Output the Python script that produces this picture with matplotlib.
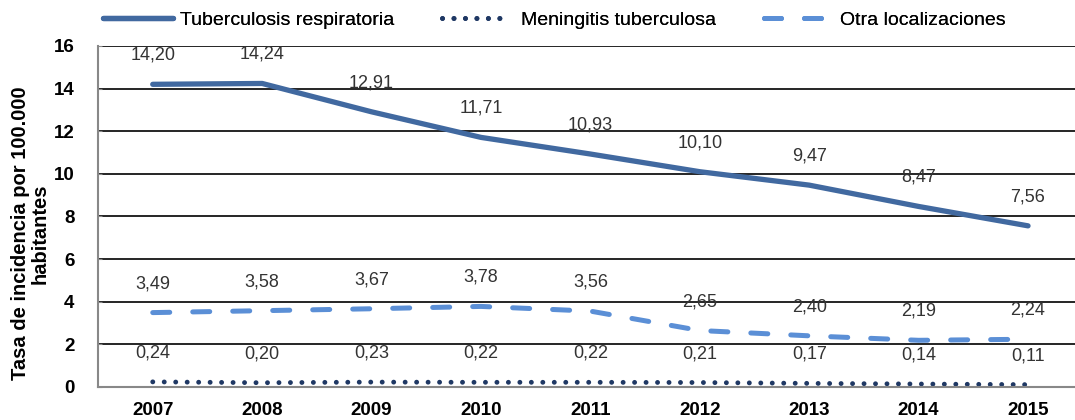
import matplotlib.pyplot as plt

plt.rcParams['font.family'] = ['Liberation Sans', 'DejaVu Sans']

years = ["2007", "2008", "2009", "2010", "2011", "2012", "2013", "2014", "2015"]
tb_resp = [14.20, 14.24, 12.91, 11.71, 10.93, 10.10, 9.47, 8.47, 7.56]
meningitis = [0.24, 0.20, 0.23, 0.22, 0.22, 0.21, 0.17, 0.14, 0.11]
otra = [3.49, 3.58, 3.67, 3.78, 3.56, 2.65, 2.40, 2.19, 2.24]


def fmt(v):
    return f"{v:.2f}".replace(".", ",")


fig = plt.figure(figsize=(10.75, 4.2), dpi=100)
ax = fig.add_axes([0.0912, 0.0786, 0.916, 0.812])

x = list(range(len(years)))
l1, = ax.plot(x, tb_resp, color="#4169A0", lw=3.8, solid_capstyle="round",
              label="Tuberculosis respiratoria")
l2, = ax.plot(x, meningitis, color="#1F3864", lw=3.5, linestyle=(0, (0.01, 2.35)),
              dash_capstyle="round", label="Meningitis tuberculosa")
l3, = ax.plot(x, otra, color="#5B8FD6", lw=3.6, linestyle=(0, (3.4, 4.6)),
              dash_capstyle="round", label="Otra localizaciones")

for series in (tb_resp, meningitis, otra):
    for xi, v in zip(x, series):
        ax.annotate(fmt(v), (xi, v), xytext=(0, 29), textcoords="offset pixels",
                    ha="center", va="center", fontsize=13, color="#333333")

ax.set_xlim(-0.5, 8.5)
ax.set_ylim(0, 16)
ax.set_yticks(range(0, 17, 2))
ax.set_xticks(x)
ax.set_xticklabels(years, fontweight="bold", fontsize=13.5)
for t in ax.get_yticklabels():
    t.set_fontsize(13.5)
    t.set_fontweight("bold")
ax.tick_params(axis="y", direction="in", length=3, color="#888888", pad=17)
ax.tick_params(axis="x", length=0, pad=11)
ax.grid(axis="y", color="black", lw=1.2)
ax.set_axisbelow(True)
for s in ("top", "right"):
    ax.spines[s].set_visible(False)
for s in ("left", "bottom"):
    ax.spines[s].set_color("#888888")
    ax.spines[s].set_linewidth(1.5)

ax.set_ylabel("Tasa de incidencia por 100.000\nhabitantes", fontsize=14.5,
              fontweight="bold", linespacing=1.05)
ax.yaxis.set_label_coords(-0.049, 0.45)

# three separate legend entries so each handle can have its own length
leg_specs = [(l1, 0.0958, 3.6, 0.35), (l2, 0.411, 3.15, 0.9), (l3, 0.711, 3.25, 0.65)]
for handle, xpos, hl, pad in leg_specs:
    lg = fig.legend(handles=[handle], loc="center left", bbox_to_anchor=(xpos, 0.952),
                    frameon=False, fontsize=14, handlelength=hl, handletextpad=pad,
                    borderaxespad=0, borderpad=0)
    fig.add_artist(lg)

fig.savefig("out.png", dpi=100)
